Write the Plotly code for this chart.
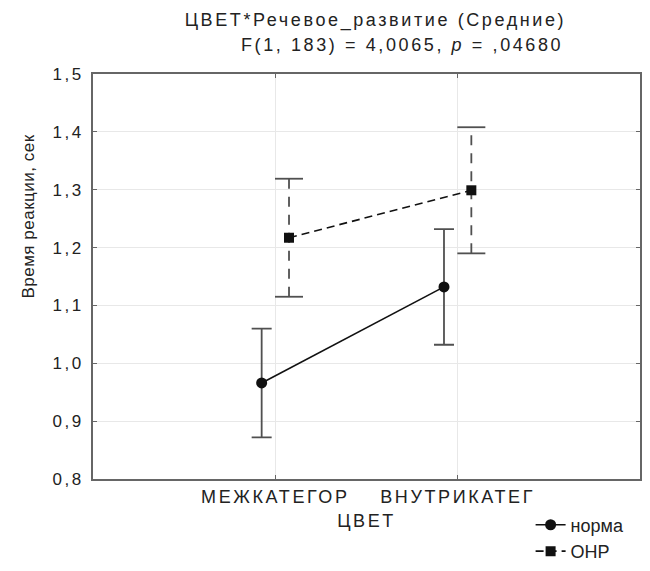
import plotly.graph_objects as go

categories = ["МЕЖКАТЕГОР", "ВНУТРИКАТЕГ"]
groups = ["норма", "ОНР"]
norma_mean = [0.966, 1.132]
norma_err = [0.094, 0.100]
onr_mean = [1.217, 1.299]
onr_err = [0.102, 0.109]
y_ticks = [0.8, 0.9, 1.0, 1.1, 1.2, 1.3, 1.4, 1.5]

FONT = "Liberation Sans, Arial, sans-serif"
TXT = "#222222"
cat_pos = [i + 1 for i in range(len(categories))]
off = 0.075
x_norma = [p - off for p in cat_pos]
x_onr = [p + off for p in cat_pos]

fig = go.Figure()

# норма: solid line with native error bars
fig.add_trace(go.Scatter(
    x=x_norma, y=norma_mean, name=groups[0], mode="lines+markers",
    line=dict(color="#111111", width=1.6),
    marker=dict(symbol="circle", size=11, color="#111111"),
    error_y=dict(type="data", array=norma_err, visible=True,
                 color="#505050", thickness=1.8, width=10),
))

# ОНР: dashed error bars built from data
ex, ey = [], []
for x, m, e in zip(x_onr, onr_mean, onr_err):
    ex += [x, x, None]
    ey += [m - e, m + e, None]
fig.add_trace(go.Scatter(
    x=ex, y=ey, mode="lines", showlegend=False, hoverinfo="skip",
    line=dict(color="#505050", width=1.8, dash="10px,8px"),
))
cx, cy = [], []
for x, m, e in zip(x_onr, onr_mean, onr_err):
    cx += [x, x]
    cy += [m - e, m + e]
fig.add_trace(go.Scatter(
    x=cx, y=cy, mode="markers", showlegend=False, hoverinfo="skip",
    marker=dict(symbol="line-ew", size=20, line=dict(color="#505050", width=1.8)),
))
fig.add_trace(go.Scatter(
    x=x_onr, y=onr_mean, name=groups[1], mode="lines+markers",
    line=dict(color="#111111", width=1.6, dash="8px,5px"),
    marker=dict(symbol="square", size=10, color="#111111"),
))

axis_common = dict(
    showline=True, linecolor="#666666", linewidth=1.5, mirror="ticks",
    ticks="inside", ticklen=4, tickcolor="#666666",
    showgrid=True, gridcolor="#e8e8e8", gridwidth=1, zeroline=False,
    automargin=False,
)

fig.update_layout(
    width=650, height=571,
    margin=dict(l=93, r=10, t=74, b=92, autoexpand=False),
    paper_bgcolor="white", plot_bgcolor="white",
    separators=", ",
    font=dict(family=FONT, size=17, color=TXT),
    xaxis=dict(range=[0, 3], tickvals=cat_pos, ticktext=categories,
               tickfont=dict(family=FONT, size=18, color=TXT),
               ticklabelstandoff=1,
               title=dict(text="ЦВЕТ", font=dict(family=FONT, size=18, color=TXT), standoff=8),
               **axis_common),
    yaxis=dict(range=[0.8, 1.5], tickvals=y_ticks, tickformat=".1f",
               tickfont=dict(family=FONT, size=17, color=TXT),
               ticklabelstandoff=4,
               **axis_common),
    legend=dict(x=0.80, y=-0.068, xanchor="left", yanchor="top",
                font=dict(family=FONT, size=18, color=TXT), bgcolor="rgba(0,0,0,0)",
                itemwidth=30),
    showlegend=True,
    annotations=[
        dict(text="ЦВЕТ*Речевое_развитие (Средние)", xref="paper", yref="paper",
             x=0.517, y=1.0, yshift=54, xanchor="center", yanchor="middle",
             showarrow=False, font=dict(family=FONT, size=18, color=TXT)),
        dict(text="F(1, 183) = 4,0065, <i>p</i> = ,04680", xref="paper", yref="paper",
             x=0.565, y=1.0, yshift=29, xanchor="center", yanchor="middle",
             showarrow=False, font=dict(family=FONT, size=18, color=TXT)),
        dict(text="Время реакции, сек", xref="paper", yref="paper",
             x=-0.119, y=0.649, xanchor="center", yanchor="middle", textangle=-90,
             showarrow=False, font=dict(family=FONT, size=17, color=TXT)),
    ],
)

post = """
var s = document.createElement('style');
s.textContent = 'html, body { margin: 0; padding: 0; } '
  + '.main-svg text:not(.legendtext) { letter-spacing: 2.6px; } '
  + '.annotation[data-index="2"] text { letter-spacing: 0.5px; }';
document.head.appendChild(s);
"""

fig.write_html("out.html", post_script=post, config={"displayModeBar": False})
